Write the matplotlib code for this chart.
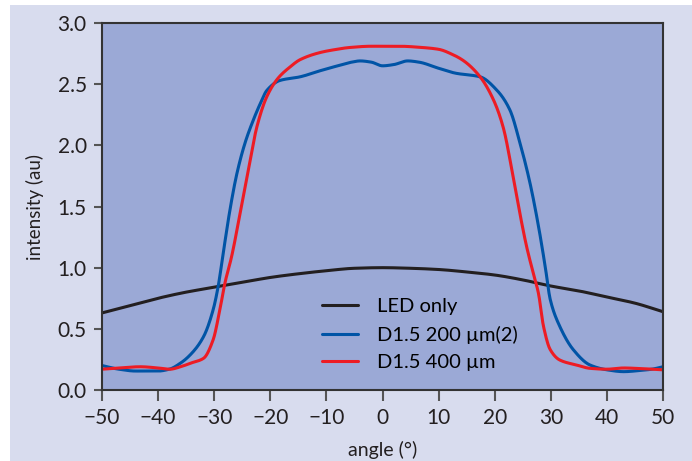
import matplotlib
matplotlib.use("Agg")
import matplotlib.pyplot as plt
from matplotlib.patches import Rectangle
import numpy as np

plt.rcParams['font.family'] = ['Lato', 'DejaVu Sans']

# LED only
led_x = [-50, -45, -40, -35, -30, -25, -20, -15, -10, -5, 0, 5, 10, 15, 20, 25, 30, 35, 40, 45, 50]
led_y = [0.63, 0.69, 0.75, 0.80, 0.84, 0.88, 0.92, 0.95, 0.975, 0.995, 1.0, 0.995, 0.985, 0.965, 0.94, 0.90, 0.85, 0.81, 0.76, 0.71, 0.64]

# D1.5 200 um(2)
blue_x = [-50, -47, -44, -40, -38, -36, -34.3, -31.9, -30.2, -29.3, -28.4, -27.2, -26.0, -24.5, -23.0, -21.8, -20.6, -18.3,
          -14.7, -11.1, -8, -5.5, -4, -2, 0, 2, 4.5, 6.5, 10, 13, 17.4, 20.4, 22.7, 24.5, 26.3, 27.8, 29.0, 29.9, 31.6,
          34.0, 37.0, 40, 43, 46, 48, 50]
blue_y = [0.20, 0.17, 0.155, 0.155, 0.17, 0.22, 0.286, 0.436, 0.654, 0.845, 1.117, 1.47, 1.76, 2.02, 2.21, 2.34, 2.45, 2.53,
          2.56, 2.61, 2.65, 2.68, 2.69, 2.68, 2.65, 2.66, 2.69, 2.68, 2.63, 2.59, 2.56, 2.45, 2.29, 2.02, 1.69, 1.34, 1.01, 0.74, 0.52,
          0.33, 0.204, 0.165, 0.15, 0.16, 0.17, 0.19]

# D1.5 400 um
red_x = [-50, -47, -43.2, -40, -37.9, -36, -34.3, -31.9, -30.2, -29.0, -28.1, -26.9, -25.4, -23.9, -22.4, -20.6, -18.6, -16.5,
         -14.7, -11, -8.8, -5.8, -2, 0, 3, 7, 10, 12.6, 14.5, 17.4, 19.8, 21.5, 23.3, 24.5, 25.7, 26.9, 27.8, 28.7, 29.9, 31.6,
         34.6, 37.0, 40, 43, 46, 50]
red_y = [0.17, 0.18, 0.19, 0.18, 0.17, 0.19, 0.218, 0.259, 0.409, 0.654, 0.872, 1.09, 1.44, 1.80, 2.15, 2.40, 2.55, 2.64,
         2.70, 2.76, 2.78, 2.80, 2.81, 2.81, 2.81, 2.80, 2.785, 2.74, 2.69, 2.56, 2.37, 2.15, 1.74, 1.44, 1.17, 0.95, 0.79, 0.52, 0.33, 0.245,
         0.204, 0.177, 0.17, 0.18, 0.175, 0.165]

series_labels = ['LED only', 'D1.5 200 µm(2)', 'D1.5 400 µm']
colors = ['#231f20', '#0054a6', '#ed1c24']

x_ticks = [-50, -40, -30, -20, -10, 0, 10, 20, 30, 40, 50]
x_ticklabels = ['\u221250', '\u221240', '\u221230', '\u221220', '\u221210', '0', '10', '20', '30', '40', '50']
y_ticks = [0.0, 0.5, 1.0, 1.5, 2.0, 2.5, 3.0]

W, H = 692, 461
fig = plt.figure(figsize=(W / 100, H / 100), dpi=100, facecolor='white')
bg = Rectangle((10 / W, 0), 1 - 10 / W + 0.01, 1 - 5 / H, transform=fig.transFigure,
               facecolor='#d8dcee', edgecolor='none', zorder=-10)
fig.add_artist(bg)

ax = fig.add_axes([102 / W, 1 - 390 / H, (663 - 102) / W, (390 - 23) / H])
ax.set_zorder(1)
ax.set_facecolor('#9ba9d6')

def smooth(xs, ys):
    xs = np.asarray(xs, float); ys = np.asarray(ys, float)
    xf = np.linspace(xs[0], xs[-1], 1000)
    h = np.diff(xs); d = np.diff(ys) / h
    m = np.zeros_like(ys)
    m[0] = d[0]; m[-1] = d[-1]
    for i in range(1, len(xs) - 1):
        if d[i - 1] * d[i] <= 0:
            m[i] = 0
        else:
            w1 = 2 * h[i] + h[i - 1]; w2 = h[i] + 2 * h[i - 1]
            m[i] = (w1 + w2) / (w1 / d[i - 1] + w2 / d[i])
    idx = np.clip(np.searchsorted(xs, xf) - 1, 0, len(xs) - 2)
    t = (xf - xs[idx]) / h[idx]
    h00 = 2 * t**3 - 3 * t**2 + 1; h10 = t**3 - 2 * t**2 + t
    h01 = -2 * t**3 + 3 * t**2; h11 = t**3 - t**2
    yf = h00 * ys[idx] + h10 * h[idx] * m[idx] + h01 * ys[idx + 1] + h11 * h[idx] * m[idx + 1]
    return xf, yf

for (xs, ys), lab, c in zip([(led_x, led_y), (blue_x, blue_y), (red_x, red_y)], series_labels, colors):
    xf, yf = smooth(xs, ys)
    ax.plot(xf, yf, color=c, lw=2.2, label=lab, solid_capstyle='round')

ax.set_xlim(-50, 50)
ax.set_ylim(0, 3.0)
ax.set_xticks(x_ticks)
ax.set_xticklabels(x_ticklabels)
ax.set_yticks(y_ticks)
ax.set_yticklabels([f'{v:.1f}' for v in y_ticks])
ax.tick_params(axis='x', direction='out', length=8, width=1.5, color='#555555', labelsize=15, labelcolor='#231f20', pad=5)
ax.tick_params(axis='y', direction='out', length=6, width=1.5, color='#555555', labelsize=15, labelcolor='#231f20', pad=5)
for s in ax.spines.values():
    s.set_color('#333333')
    s.set_linewidth(1.5)

ax.set_xlabel('angle (°)', fontsize=14, color='#231f20', labelpad=9)
ax.set_ylabel('intensity (au)', fontsize=13.5, color='#231f20', labelpad=10)

leg = ax.legend(loc='upper left', bbox_to_anchor=((322 - 102) / 561, (390 - 298) / 367), frameon=False, fontsize=14.5,
                handlelength=1.8, handletextpad=0.95, labelspacing=0.52, borderaxespad=0, borderpad=0)

fig.savefig('out.png', dpi=100, facecolor=fig.get_facecolor())
